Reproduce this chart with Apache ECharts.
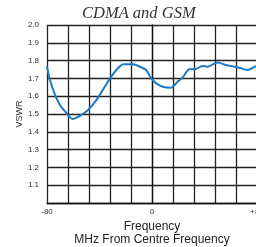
<!DOCTYPE html>
<html>
<head>
    <meta charset="utf-8">
    <title>CDMA and GSM</title>
    <script src="https://cdn.jsdelivr.net/npm/echarts@6/dist/echarts.min.js"></script>
    <style>
        html, body { margin: 0; padding: 0; background: #fff; }
    </style>
</head>
<body>
    <div id="main" style="width: 256px;height:247px;"></div>
    <script>
        // frequency offset (MHz) and VSWR
        var freq = [-80, -77.7, -73.9, -70.1, -65, -60.5, -55, -48.7, -42.3, -36, -31, -26, -21.6, -14.6, -8.2, -4.4, -0.6, 3.2, 8.2, 14.6, 19.6, 23.4, 28.4, 33.5, 38.5, 42.3, 50, 56.3, 62.6, 66.4, 72.7, 78.5, 80];
        var vswr = [1.766, 1.691, 1.607, 1.551, 1.504, 1.472, 1.489, 1.522, 1.579, 1.653, 1.71, 1.757, 1.779, 1.779, 1.762, 1.747, 1.70, 1.672, 1.653, 1.648, 1.682, 1.706, 1.751, 1.753, 1.77, 1.766, 1.79, 1.775, 1.766, 1.76, 1.747, 1.766, 1.77];
        var xTickLabels = { '-80': '-80', '0': '0', '80': '+80' };

        var myChart = echarts.init(document.getElementById("main"));

        var pts = [];
        for (var i = 0; i < freq.length; i++) {
            pts.push([freq[i], vswr[i]]);
        }

        var option = {
            animation: false,
            title: {
                text: 'CDMA and GSM',
                left: 77,
                top: 0,
                textStyle: {
                    fontFamily: 'Liberation Serif',
                    fontStyle: 'italic',
                    fontWeight: 'normal',
                    fontSize: 16.5,
                    color: '#333'
                }
            },
            grid: { left: 47, right: -1, top: 25, bottom: 44, containLabel: false, outerBoundsMode: 'none' },
            xAxis: {
                type: 'value',
                min: -80,
                max: 80,
                interval: 16,
                name: 'Frequency\nMHz From Centre Frequency',
                nameLocation: 'middle',
                nameGap: 17,
                nameMoveOverlap: false,
                nameTextStyle: { fontFamily: 'Liberation Sans', fontSize: 12, color: '#222', lineHeight: 13, verticalAlign: 'top' },
                axisLine: { lineStyle: { color: '#111', width: 1.3 } },
                axisTick: { show: false },
                axisLabel: {
                    fontFamily: 'Liberation Sans', fontSize: 8, color: '#333', margin: 5,
                    formatter: function (v) { return xTickLabels[String(v)] || ''; }
                },
                splitLine: { show: true, lineStyle: { color: '#222', width: 1.3 } }
            },
            yAxis: {
                type: 'value',
                min: 1.0,
                max: 2.0,
                interval: 0.1,
                name: 'VSWR',
                nameLocation: 'middle',
                nameGap: 23,
                nameMoveOverlap: false,
                nameTextStyle: { fontFamily: 'Liberation Sans', fontSize: 9, color: '#333' },
                axisLine: { show: true, lineStyle: { color: '#111', width: 1.3 } },
                axisTick: { show: false },
                axisLabel: {
                    fontFamily: 'Liberation Sans', fontSize: 8, color: '#333', margin: 8,
                    formatter: function (v) { return v < 1.05 ? '' : v.toFixed(1); }
                },
                splitLine: { show: true, lineStyle: { color: '#222', width: 1.3 } }
            },
            series: [{
                type: 'line',
                data: pts,
                smooth: 0.3,
                showSymbol: false,
                lineStyle: { color: '#1b7ac7', width: 2 }
            }]
        };
        myChart.setOption(option);
    </script>
</body>
</html>
